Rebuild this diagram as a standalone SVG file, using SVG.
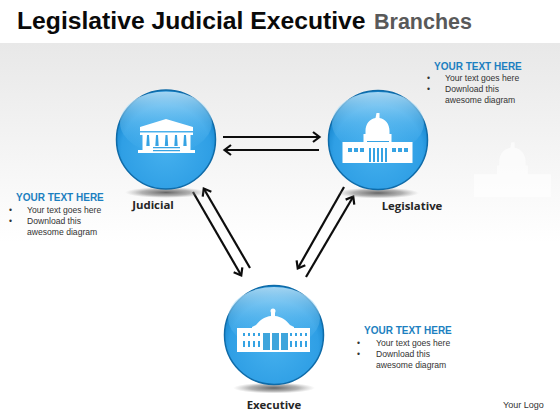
<svg xmlns="http://www.w3.org/2000/svg" width="560" height="420" viewBox="0 0 560 420">
<style>
.ttl{font:bold 24.7px "Liberation Sans",Arial,sans-serif;fill:#0a0a0a}
.sub{font:bold 21.5px "Liberation Sans",Arial,sans-serif;fill:#595959}
.hd{font:bold 10px "Liberation Sans",Arial,sans-serif;fill:#1c7fc0}
.bd{font:8.6px "Liberation Sans",Arial,sans-serif;fill:#333}
.lb{font:bold 11.400px "Open Sans","Liberation Sans",sans-serif;fill:#262626;text-anchor:middle}
.lg{font:9px "Liberation Sans",Arial,sans-serif;fill:#333}
.ln{stroke:#0d0d0d;stroke-width:2.2;fill:none;marker-end:url(#ah)}
.w{fill:#fff}
.b{fill:#36a3e3}
</style>
<defs>
<linearGradient id="bg" x1="0" y1="0" x2="0" y2="1"><stop offset="0" stop-color="#e8e8e8"/><stop offset="1" stop-color="#fff"/></linearGradient>
<radialGradient id="ball" cx=".5" cy=".6" r=".56"><stop offset="0" stop-color="#45b0ee"/><stop offset=".8" stop-color="#2f9fe5"/><stop offset="1" stop-color="#1484cc"/></radialGradient>
<linearGradient id="gloss" x1="0" y1="0" x2="0" y2="1"><stop offset="0" stop-color="#c9eafc" stop-opacity=".8"/><stop offset=".5" stop-color="#8bd2f8" stop-opacity=".35"/><stop offset="1" stop-color="#5dbdf3" stop-opacity="0"/></linearGradient>
<radialGradient id="sh"><stop offset="0" stop-color="#555" stop-opacity=".9"/><stop offset=".6" stop-color="#777" stop-opacity=".55"/><stop offset="1" stop-color="#999" stop-opacity="0"/></radialGradient>
<marker id="ah" markerUnits="userSpaceOnUse" markerWidth="12" markerHeight="12" refX="9" refY="6" orient="auto"><path d="M3 1L9.500 6L3 11" fill="none" stroke="#0d0d0d" stroke-width="2.200"/></marker>
<g id="ball1">
<ellipse cx="0" cy="53" rx="41" ry="5.500" fill="url(#sh)"/>
<circle r="49.500" fill="url(#ball)" stroke="#0f6ba8" stroke-width="1.500"/>
<ellipse cx="0" cy="-17" rx="46" ry="31" fill="url(#gloss)"/>
</g>
<path id="capitol" d="M-1.500-27h3v5c6 1 10 6 10 13v3h2v8h21v21h-70v-21h21v-8h2v-3c0-7 4-12 10-13z"/>
</defs>

<rect width="560" height="420" fill="#fff"/>
<rect y="43" width="560" height="200" fill="url(#bg)"/>
<use href="#capitol" class="w" transform="translate(513 172) scale(1.100)" opacity=".6"/>

<text class="ttl" x="17" y="29">Legislative Judicial Executive</text>
<text class="sub" x="374" y="29">Branches</text>

<g id="connectors">
<path class="ln" d="M223 137H319"/>
<path class="ln" d="M319 150H225"/>
<path class="ln" d="M193 192L241 275"/>
<path class="ln" d="M250 268L204 189"/>
<path class="ln" d="M344 187L298 268"/>
<path class="ln" d="M306 277L353 197"/>
</g>

<g id="judicial">
<use href="#ball1" transform="translate(166 139.500)"/>
<path class="w" d="M166 119L193 127V131H140V127Z"/>
<path class="w" d="M140 132.500H193V135H190.500V150H195V153H138V150H142.500V135H140Z"/>
<path class="b" d="M147 135h2l.7 11h-3.400zM156 135h2l.7 11h-3.400zM165.500 135h2l.7 11h-3.400zM175 135h2l.7 11h-3.400zM184 135h2l.7 11h-3.400z"/>
<path class="b" d="M153 147h27v1.200h-27zM153 150h27v1.200h-27z"/>
<text class="lb" x="153" y="209">Judicial</text>
</g>

<g id="legislative">
<use href="#ball1" transform="translate(378 140)"/>
<use href="#capitol" class="w" transform="translate(378 140)"/>
<path class="b" d="M348 148h4v4h-4zM354 148h4v4h-4zM360 148h4v4h-4zM392 148h4v4h-4zM398 148h4v4h-4zM404 148h4v4h-4z"/>
<path class="b" d="M369 148h2v14h-2zM373 148h2v14h-2zM377 148h2v14h-2zM381 148h2v14h-2zM385 148h2v14h-2z"/>
<path class="b" d="M367 141h22v1h-22z"/>
<text class="lb" x="412" y="210">Legislative</text>
</g>

<g id="executive">
<use href="#ball1" transform="translate(274 335)"/>
<circle class="w" cx="273" cy="311" r="2.500"/>
<path class="w" d="M271 313h4v3c6 .5 11 4 15 9l4 2v3h-42v-3l4-2c4-5 9-8.500 15-9z"/>
<rect class="w" x="237" y="328" width="73" height="24"/>
<path class="b" d="M243 333h2v3h-2zM248 333h2v3h-2zM253 333h2v3h-2zM258 333h2v3h-2zM290 333h2v3h-2zM295 333h2v3h-2zM300 333h2v3h-2zM305 333h2v3h-2z"/>
<path class="b" d="M243 341h2v6h-2zM248 341h2v6h-2zM253 341h2v6h-2zM258 341h2v6h-2zM290 341h2v6h-2zM295 341h2v6h-2zM300 341h2v6h-2zM305 341h2v6h-2z"/>
<path fill="#3fa5dc" d="M263 333h7v17h-7zM272 333h7v17h-7zM281 333h7v17h-7z"/>
<text class="lb" x="274" y="409">Executive</text>
</g>

<g id="note-top">
<text class="hd" x="434" y="70">YOUR TEXT HERE</text>
<text class="bd" x="427" y="81">•</text><text class="bd" x="445" y="81">Your text goes here</text>
<text class="bd" x="427" y="92">•</text><text class="bd" x="445" y="92">Download this</text>
<text class="bd" x="445" y="103">awesome diagram</text>
</g>
<g id="note-left">
<text class="hd" x="16" y="201">YOUR TEXT HERE</text>
<text class="bd" x="9" y="213">•</text><text class="bd" x="27" y="213">Your text goes here</text>
<text class="bd" x="9" y="224">•</text><text class="bd" x="27" y="224">Download this</text>
<text class="bd" x="27" y="235">awesome diagram</text>
</g>
<g id="note-bottom">
<text class="hd" x="364" y="334">YOUR TEXT HERE</text>
<text class="bd" x="357" y="346">•</text><text class="bd" x="376" y="346">Your text goes here</text>
<text class="bd" x="357" y="357">•</text><text class="bd" x="376" y="357">Download this</text>
<text class="bd" x="376" y="368">awesome diagram</text>
</g>
<text class="lg" x="503" y="408">Your Logo</text>
</svg>
